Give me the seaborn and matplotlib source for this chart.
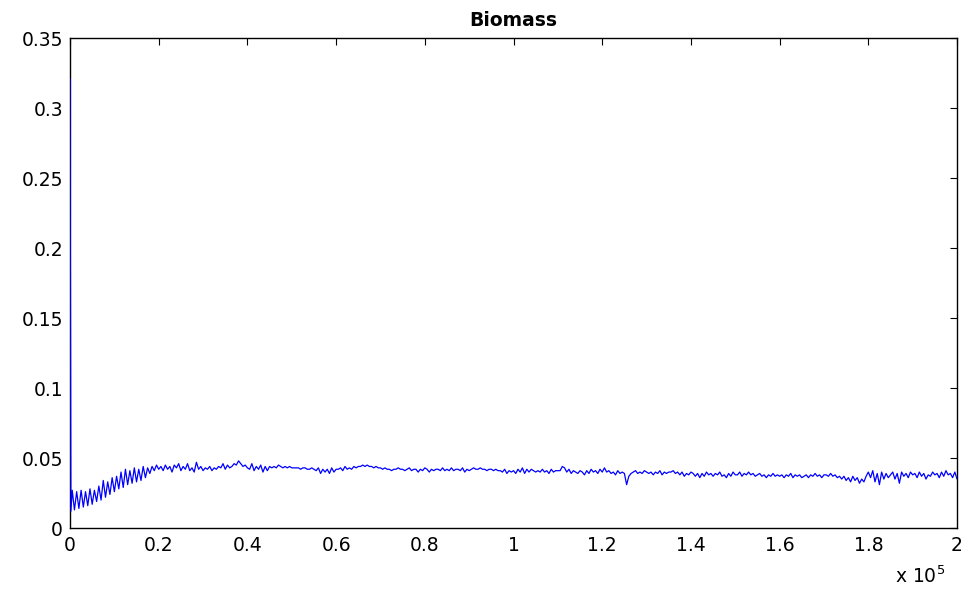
import numpy as np
import pandas as pd
import seaborn as sns
import matplotlib.pyplot as plt
from matplotlib.ticker import FuncFormatter

# spike at the very start
t_start = [0, 200]
biomass_start = [0.321, 0.012]

# 500 .. 20000, every 500 (strong oscillation band)
biomass_early = [
    0.027, 0.013, 0.026, 0.014, 0.027, 0.015, 0.026, 0.016, 0.028, 0.017,
    0.027, 0.019, 0.030, 0.020, 0.034, 0.022, 0.033, 0.024, 0.036, 0.026,
    0.037, 0.028, 0.040, 0.029, 0.042, 0.031, 0.041, 0.032, 0.043, 0.033,
    0.042, 0.034, 0.044, 0.036, 0.043, 0.039, 0.044, 0.041, 0.045, 0.042,
]

# 20500 .. 200000, every 500 (one row = 5000 steps)
biomass_late = [
    0.044, 0.041, 0.045, 0.042, 0.044, 0.040, 0.045, 0.043, 0.046, 0.041,
    0.044, 0.042, 0.046, 0.041, 0.043, 0.040, 0.047, 0.042, 0.044, 0.041,
    0.043, 0.042, 0.044, 0.041, 0.043, 0.042, 0.044, 0.043, 0.046, 0.042,
    0.045, 0.043, 0.044, 0.046, 0.045, 0.048, 0.046, 0.044, 0.045, 0.043,
    0.042, 0.046, 0.041, 0.044, 0.042, 0.045, 0.040, 0.044, 0.041, 0.044,
    0.043, 0.044, 0.043, 0.045, 0.044, 0.043, 0.044, 0.043, 0.044, 0.043,
    0.043, 0.043, 0.043, 0.042, 0.043, 0.043, 0.042, 0.042, 0.043, 0.042,
    0.041, 0.043, 0.039, 0.042, 0.040, 0.042, 0.039, 0.043, 0.040, 0.042,
    0.042, 0.043, 0.041, 0.044, 0.042, 0.043, 0.042, 0.044, 0.043, 0.044,
    0.044, 0.045, 0.044, 0.045, 0.044, 0.044, 0.043, 0.044, 0.043, 0.043,
    0.042, 0.043, 0.042, 0.042, 0.041, 0.042, 0.042, 0.043, 0.042, 0.042,
    0.041, 0.042, 0.043, 0.041, 0.042, 0.042, 0.040, 0.042, 0.041, 0.043,
    0.042, 0.040, 0.042, 0.041, 0.042, 0.042, 0.041, 0.043, 0.041, 0.042,
    0.041, 0.043, 0.041, 0.042, 0.042, 0.041, 0.043, 0.040, 0.042, 0.041,
    0.042, 0.043, 0.042, 0.042, 0.043, 0.042, 0.042, 0.041, 0.042, 0.042,
    0.041, 0.042, 0.041, 0.041, 0.040, 0.042, 0.039, 0.041, 0.040, 0.041,
    0.039, 0.042, 0.040, 0.043, 0.039, 0.042, 0.040, 0.042, 0.041, 0.040,
    0.041, 0.040, 0.042, 0.040, 0.041, 0.039, 0.042, 0.040, 0.041, 0.041,
    0.041, 0.044, 0.043, 0.040, 0.042, 0.039, 0.041, 0.040, 0.039, 0.041,
    0.040, 0.038, 0.041, 0.039, 0.042, 0.040, 0.041, 0.039, 0.042, 0.040,
    0.043, 0.040, 0.041, 0.039, 0.040, 0.038, 0.041, 0.039, 0.040, 0.039,
    0.031, 0.037, 0.039, 0.040, 0.041, 0.039, 0.040, 0.039, 0.041, 0.040,
    0.039, 0.040, 0.038, 0.040, 0.039, 0.041, 0.038, 0.040, 0.039, 0.040,
    0.040, 0.041, 0.039, 0.040, 0.038, 0.040, 0.037, 0.039, 0.038, 0.040,
    0.039, 0.037, 0.039, 0.036, 0.039, 0.037, 0.040, 0.038, 0.039, 0.037,
    0.039, 0.038, 0.040, 0.037, 0.038, 0.036, 0.039, 0.037, 0.040, 0.038,
    0.038, 0.040, 0.037, 0.039, 0.038, 0.040, 0.038, 0.039, 0.037, 0.038,
    0.039, 0.037, 0.038, 0.036, 0.038, 0.037, 0.039, 0.037, 0.038, 0.037,
    0.038, 0.036, 0.038, 0.037, 0.039, 0.036, 0.038, 0.037, 0.038, 0.036,
    0.037, 0.038, 0.036, 0.038, 0.037, 0.039, 0.037, 0.038, 0.036, 0.038,
    0.038, 0.037, 0.039, 0.037, 0.038, 0.036, 0.037, 0.035, 0.037, 0.034,
    0.036, 0.033, 0.037, 0.034, 0.036, 0.032, 0.035, 0.033, 0.037, 0.040,
    0.036, 0.041, 0.033, 0.039, 0.031, 0.040, 0.035, 0.039, 0.036, 0.038,
    0.040, 0.035, 0.039, 0.032, 0.040, 0.037, 0.039, 0.036, 0.040, 0.038,
    0.039, 0.036, 0.040, 0.037, 0.039, 0.035, 0.038, 0.037, 0.040, 0.038,
    0.039, 0.036, 0.040, 0.037, 0.041, 0.038, 0.039, 0.036, 0.040, 0.035,
]

x_ticks = [0, 20000, 40000, 60000, 80000, 100000, 120000, 140000, 160000, 180000, 200000]
y_ticks = [0, 0.05, 0.1, 0.15, 0.2, 0.25, 0.3, 0.35]

# sample times
t = np.concatenate([
    t_start,
    np.arange(500, 20001, 500),
    np.arange(20500, 200001, 500),
])
biomass = np.concatenate([biomass_start, biomass_early, biomass_late])
df = pd.DataFrame({"t": t, "biomass": biomass})

sns.set_theme(style="white")
plt.rcParams["font.family"] = ["DejaVu Sans"]
plt.rcParams["mathtext.default"] = "regular"

fig = plt.figure(figsize=(9.67, 5.94), dpi=100)
ax = fig.add_axes([0.0724, 0.111, 0.9173, 0.825])

# zorder above spines so the start spike shows over the left axis
sns.lineplot(data=df, x="t", y="biomass", ax=ax, color="#0000ff",
             linewidth=0.9, estimator=None, sort=False, zorder=3)

ax.set_xlim(0, 200000)
ax.set_ylim(0, 0.35)
ax.set_xticks(x_ticks)
ax.set_yticks(y_ticks)
ax.xaxis.set_major_formatter(FuncFormatter(lambda v, p: "%g" % (v / 1e5)))
ax.yaxis.set_major_formatter(FuncFormatter(lambda v, p: "%g" % v))
ax.tick_params(direction="in", length=5, width=0.8, color="black",
               top=True, right=True, labelsize=13.5, labelcolor="black")
ax.tick_params(axis="x", pad=6)
ax.tick_params(axis="y", pad=5)
for s in ax.spines.values():
    s.set_color("black")
    s.set_linewidth(1.0)

ax.set_xlabel("")
ax.set_ylabel("")
ax.set_title("Biomass", fontsize=13.5, fontweight="bold", color="black", pad=9)
fig.text(0.926, 0.018, "x 10$^5$", fontsize=13.5, color="black")

fig.savefig("out.png", dpi=100)
